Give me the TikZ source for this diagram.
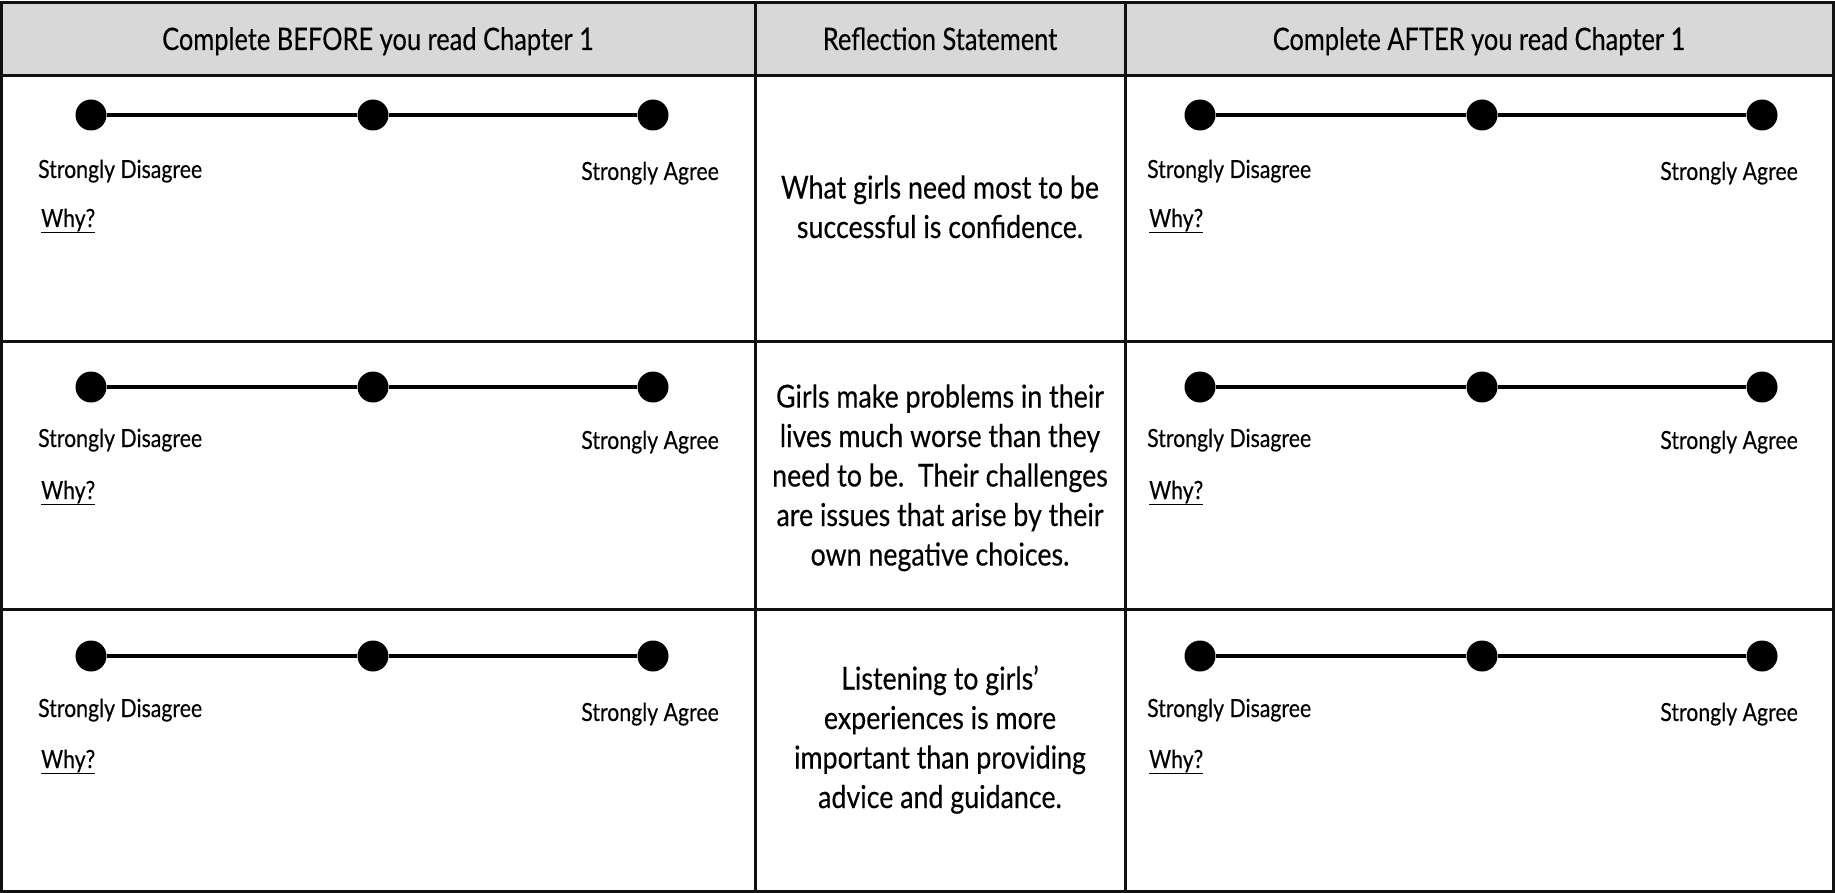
\documentclass[tikz,border=0pt]{standalone}
\usepackage{fontspec}
\setmainfont{Lato}[FakeStretch=0.85,FakeBold=0.3]
\newfontfamily\hdrfamily{Lato}[FakeStretch=0.82,FakeBold=0.3]
\definecolor{hdrgray}{HTML}{D8D8D8}
\definecolor{ink}{HTML}{111111}
\newcommand{\lblfont}{\fontsize{25}{29}\selectfont}
\newcommand{\hdrfont}{\hdrfamily\fontsize{31}{36}\selectfont}
\newcommand{\bodyfont}{\fontsize{31.5}{39.5}\selectfont}
\begin{document}
\begin{tikzpicture}[x=1pt,y=-1pt,
  gridline/.style={draw=ink, line width=3pt},
  dotnode/.style={circle, fill=black, inner sep=0pt, minimum size=31pt},
  scale line/.style={draw=black, line width=3.5pt},
  lbl/.style={font=\lblfont, inner sep=0pt, text=black},
  hdr/.style={font=\hdrfont, inner sep=0pt, anchor=base, text=black},
  stmt/.style={font=\bodyfont, inner sep=0pt, anchor=base, align=center, text=black}]
\useasboundingbox (0,0) rectangle (1835,893);
% header band and grid
\fill[hdrgray] (1.5,3) rectangle (1833.5,76);
\draw[gridline] (1.5,3) rectangle (1833.5,891.5);
\draw[gridline] (1.5,76) -- (1833.5,76);
\draw[gridline] (1.5,341) -- (1833.5,341);
\draw[gridline] (1.5,609) -- (1833.5,609);
\draw[gridline] (755,3) -- (755,891.5);
\draw[gridline] (1125,3) -- (1125,891.5);
% headers
\node[hdr] (h1) at (378,50) {Complete BEFORE you read Chapter 1};
\node[hdr] (h2) at (940,50) {Reflection Statement};
\node[hdr] (h3) at (1479,50) {Complete AFTER you read Chapter 1};
% statements (base = baseline of the last line)
\node[stmt] (s1) at (940,238) {What girls need most to be\\successful is confidence.};
\node[stmt] (s2) at (940,565.5) {Girls make problems in their\\lives much worse than they\\need to be.\ \ Their challenges\\are issues that arise by their\\own negative choices.};
\node[stmt] (s3) at (940,808) {Listening to girls’\\experiences is more\\important than providing\\advice and guidance.};
% scales: row / dot y / disagree base / agree base / why base
\foreach \r/\dy/\sd/\sa/\wy in {1/115/178/180/227, 2/387/447/449/499, 3/656/717/721/768}{
  \foreach \c/\xa/\xb/\xc/\xl/\xr/\xw in {L/91/373/653/38/719/41, R/1200/1482/1762/1147/1798/1149}{
    \node[dotnode] (a\c\r) at (\xa,\dy) {};
    \node[dotnode] (b\c\r) at (\xb,\dy) {};
    \node[dotnode] (c\c\r) at (\xc,\dy) {};
    \draw[scale line] (a\c\r) -- (b\c\r) -- (c\c\r);
    \node[lbl, anchor=base west] (sd\c\r) at (\xl,\sd) {Strongly Disagree};
    \node[lbl, anchor=base east] (sa\c\r) at (\xr,\sa) {Strongly Agree};
    \node[lbl, anchor=base west] (w\c\r) at (\xw,\wy) {\underline{Why?}};
  }
}
\end{tikzpicture}
\end{document}
